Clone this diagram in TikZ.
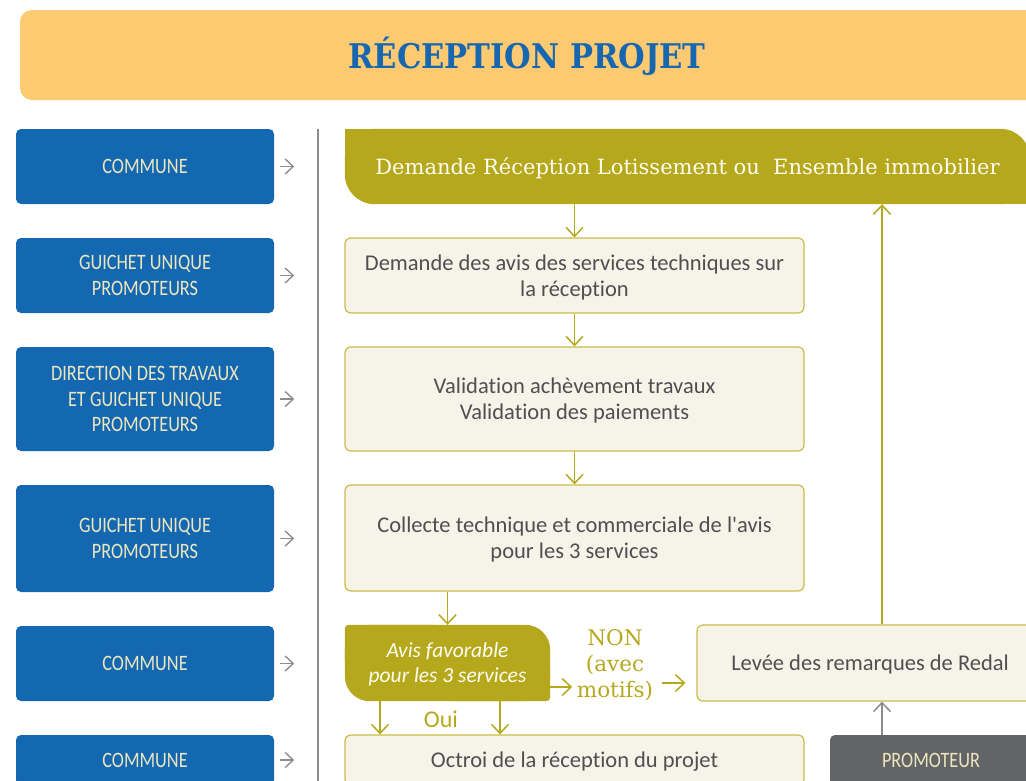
\documentclass[tikz,border=0pt]{standalone}
\usepackage{fontspec}
\setmainfont[Ligatures={NoCommon}]{Carlito}
\newfontfamily\condf[FakeStretch=0.83,Ligatures={NoCommon}]{Carlito}
\newfontfamily\slabf{DejaVu Serif}
\newfontfamily\slabcf{DejaVu Serif Condensed}
\usetikzlibrary{arrows.meta,calc}
\definecolor{titlebg}{HTML}{FDC971}
\definecolor{titleblue}{HTML}{1666B0}
\definecolor{boxblue}{HTML}{1468B1}
\definecolor{cream}{HTML}{ECE6BE}
\definecolor{olive}{HTML}{B5A81D}
\definecolor{lightfill}{HTML}{F6F4E9}
\definecolor{lightborder}{HTML}{CBBC47}
\definecolor{txtgray}{HTML}{4F4F51}
\definecolor{linegray}{HTML}{8C8D8F}
\definecolor{darkbox}{HTML}{636466}
\definecolor{whitish}{HTML}{FFFDF2}
\pgfdeclarelayer{bg}
\pgfsetlayers{bg,main}
\begin{document}
\begin{tikzpicture}[x=1pt,y=-1pt,
 actor/.style={fill=boxblue, rounded corners=5pt, text=cream, font=\condf\fontsize{22}{25.5}\selectfont, align=center, minimum width=258pt, inner sep=0pt, text depth=0pt},
 stepbox/.style={fill=lightfill, draw=lightborder, line width=1.2pt, rounded corners=6pt, text=txtgray, font=\fontsize{22.5}{26}\selectfont, align=center, minimum width=459pt, inner sep=0pt, text depth=0pt},
 plainbox/.style={inner sep=0pt, align=center},
 garr/.style={draw=linegray, line width=1.4pt, -{Straight Barb[length=8pt,width=15pt]}},
 garrbig/.style={draw=linegray, line width=1.5pt, -{Straight Barb[length=9pt,width=17pt]}},
 oarr/.style={draw=olive, line width=1.5pt, -{Straight Barb[length=9pt,width=17pt]}},
]
\useasboundingbox (0,0) rectangle (1026,780);
\clip (0,0) rectangle (1026,780);

% title
\node[plainbox, fill=titlebg, rounded corners=12pt, minimum width=1025pt, minimum height=90pt] (tbar) at (532.5,55) {};
\node[plainbox, text=titleblue, font=\slabcf\bfseries\fontsize{34}{38}\selectfont] (title) at (527,56) {RÉCEPTION PROJET};

% actors
\node[actor, minimum height=75pt] (a1) at (145,166.5) {COMMUNE};
\node[actor, minimum height=75pt] (a2) at (145,275.5) {GUICHET UNIQUE\\PROMOTEURS};
\node[actor, minimum height=104pt] (a3) at (145,399) {DIRECTION DES TRAVAUX\\ET GUICHET UNIQUE\\PROMOTEURS};
\node[actor, minimum height=107pt] (a4) at (145,538.5) {GUICHET UNIQUE\\PROMOTEURS};
\node[actor, minimum height=75pt] (a5) at (145,663.5) {COMMUNE};
\node[actor, minimum height=50pt] (a6) at (145,760) {COMMUNE};

\foreach \a in {a1,a2,a3,a4,a5,a6}{
  \draw[garr] ([xshift=6pt]\a.east) -- ++(14,0);
}

% separator
\coordinate (sepT) at (318,129);
\coordinate (sepB) at (318,785);
\draw[linegray, line width=2pt] (sepT) -- (sepB);

% top box
\node[plainbox, minimum width=685pt, minimum height=75pt, text=whitish, font=\slabf\fontsize{21}{24}\selectfont, text depth=0pt] (top) at (687.5,166.5) {Demande Réception Lotissement ou\ \ Ensemble immobilier};

% steps
\node[stepbox, minimum height=75pt] (b2) at (574.5,275.5) {Demande des avis des services techniques sur\\la réception};
\node[stepbox, minimum height=104pt] (b3) at (574.5,399) {Validation achèvement travaux\\Validation des paiements};
\node[stepbox, minimum height=106pt] (b4) at (574.5,538) {Collecte technique et commerciale de l\textquotesingle avis\\pour les 3 services};

\node[plainbox, minimum width=205pt, minimum height=76pt, text=whitish, font=\itshape\fontsize{21.5}{25}\selectfont, text depth=0pt] (avis) at (447.5,663) {Avis favorable\\pour les 3 services};

\node[stepbox, minimum width=346pt, minimum height=76pt] (lev) at (870,663) {Levée des remarques de Redal};
\node[stepbox, minimum height=50pt] (oct) at (574.5,760) {Octroi de la réception du projet};
\node[plainbox, fill=darkbox, rounded corners=5pt, minimum width=202pt, minimum height=50pt, text=cream, font=\condf\fontsize{22}{25}\selectfont, text depth=0pt] (prom) at (931,760) {PROMOTEUR};

\node[plainbox, text=olive, font=\slabf\fontsize{21.5}{26}\selectfont] (non) at (615,665) {NON\\(avec\\motifs)};
\node[plainbox, text=olive, font=\fontsize{24}{26}\selectfont] (oui) at (441,719) {Oui};

% custom shaped backgrounds
\begin{pgfonlayer}{bg}
  \fill[olive, rounded corners=30pt] (top.north west) rectangle (top.south east);
  \fill[olive] (top.north west) rectangle ++(60,40);
  \fill[olive] (top.south east) rectangle ++(-60,-40);
  \fill[olive, rounded corners=25pt] (avis.north west) rectangle (avis.south east);
  \fill[olive, rounded corners=4pt] (avis.north west) rectangle ($(avis.center)+(-10,2)$);
  \fill[olive, rounded corners=4pt] (avis.south east) rectangle ($(avis.center)+(0,0)$);
\end{pgfonlayer}

% flow arrows
\draw[oarr] (b2.north |- top.south) -- (b2.north);
\draw[oarr] (b2.south) -- (b3.north);
\draw[oarr] (b3.south) -- (b4.north);
\draw[oarr] (avis.north |- b4.south) -- (avis.north);
\draw[oarr] ($(avis.east)+(0,24)$) -- ++(22,0);
\draw[oarr] ($(lev.west)+(-34,20)$) -- ++(23,0);
\coordinate (vx) at (882,0);
\draw[oarr] (vx |- lev.north) -- (vx |- top.south);
\draw[garrbig] (vx |- prom.north) -- (vx |- lev.south);
\coordinate (o1) at (380,0);
\coordinate (o2) at (500,0);
\draw[oarr] (o1 |- avis.south) -- (o1 |- oct.north);
\draw[oarr] (o2 |- avis.south) -- (o2 |- oct.north);
\end{tikzpicture}
\end{document}
